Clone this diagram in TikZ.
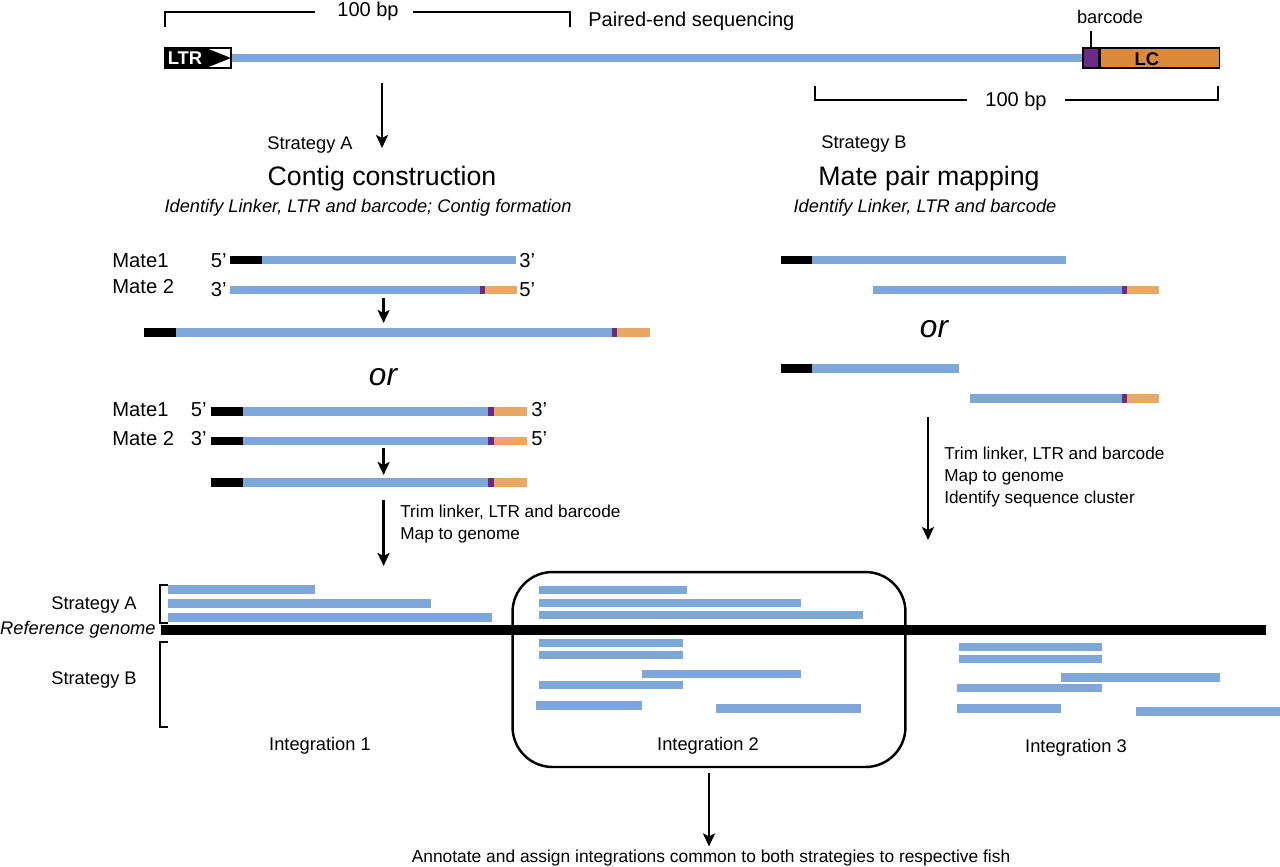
\documentclass[tikz,border=0pt]{standalone}
\usepackage{fontspec}
\setmainfont{Liberation Sans}
\usepackage{tikz}
\usetikzlibrary{arrows.meta, positioning}
\definecolor{bleu}{HTML}{7DA7D9}
\definecolor{pourpre}{HTML}{6B2A86}
\definecolor{orangefonce}{HTML}{D98A3C}
\definecolor{orangeclair}{HTML}{E9A766}
\tikzset{
  lecture/.style={line width=4.9pt},
  fleche/.style={-{Stealth[length=2.6mm, width=2.4mm, inset=0.6mm]}, line width=1.4pt},
  accolade/.style={line width=1pt},
  texte/.style={font=\fontsize{10.4}{12.5}\selectfont, inner sep=0pt},
  italique/.style={font=\fontsize{10.4}{12.5}\selectfont\itshape, inner sep=0pt},
  petit/.style={font=\fontsize{9.8}{12.3}\selectfont, inner sep=0pt, align=left},
  titre/.style={font=\fontsize{15.2}{18}\selectfont, inner sep=0pt},
  mesure/.style={font=\fontsize{11.4}{13}\selectfont, inner sep=0pt},
  mate/.style={font=\fontsize{11.5}{13}\selectfont, inner sep=0pt},
  ou/.style={font=\fontsize{18}{20}\selectfont\itshape, inner sep=0pt},
  cadre/.style={draw, line width=1.4pt, rounded corners=0.8cm},
  boite/.style={draw, line width=0.7pt, minimum height=0.4cm, inner sep=0pt},
}

\begin{document}
\begin{tikzpicture}[x=0.02cm, y=-0.02cm]
  \useasboundingbox (0,0) rectangle (1280,866);

  % construit sequence
  \node[boite, minimum width=1.32cm,
    path picture={
      \fill (path picture bounding box.south west) rectangle ([xshift=-0.46cm]path picture bounding box.north east);
      \fill ([xshift=-0.5cm]path picture bounding box.north east) -- (path picture bounding box.east)
        -- ([xshift=-0.5cm]path picture bounding box.south east) -- cycle;
    }] (ltr) at (198,58) {};
  \node[font=\fontsize{10.5}{12}\selectfont\bfseries, text=white, inner sep=0pt] (ltrtxt) at (185,58) {LTR};
  \node[boite, fill=pourpre, minimum width=0.32cm] (bc) at (1091,58) {};
  \node[boite, fill=orangefonce, minimum width=2.38cm, anchor=west] (lc) at (bc.east) {};
  \node[font=\fontsize{10.5}{12}\selectfont\bfseries, inner sep=0pt, anchor=base] (lctxt) at (1147,65) {LC};
  \draw[bleu, line width=4pt] (ltr.east) -- (bc.west);
  \node[texte, anchor=base] (bctxt) at (1110,23) {barcode};
  \draw[accolade] (bc.north) -- ++(0,-16);

  \node[mesure, anchor=base] (bp1) at (368,16) {100 bp};
  \draw[accolade] (315,12) -- (165,12) -- (165,27);
  \draw[accolade] (413,12) -- (570,12) -- (570,27);
  \node[mesure, anchor=base west] (pe) at (588,26) {Paired-end sequencing};
  \node[mesure, anchor=base] (bp2) at (1016,106) {100 bp};
  \draw[accolade] (967,100) -- (815,100) -- (815,86);
  \draw[accolade] (1065,100) -- (1218,100) -- (1218,86);

  \coordinate (depA) at (382,83);
  \coordinate (finA) at (382,148);
  \draw[fleche] (depA) -- (finA);

  % strategie A
  \node[texte, anchor=base] (stratA) at (310,149) {Strategy A};
  \node[titre, anchor=base] (contig) at (382,185) {Contig construction};
  \node[italique, anchor=base] (identA) at (368,212) {Identify Linker, LTR and barcode; Contig formation};

  \node[mate, anchor=base west] (m1a) at (112,267) {Mate1};
  \node[mate, anchor=base west] (m2a) at (112,293) {Mate 2};
  \node[mate, anchor=base east] (p5a) at (227,267) {5’};
  \node[mate, anchor=base west] (p3a) at (519,267) {3’};
  \node[mate, anchor=base east] (p3b) at (227,296) {3’};
  \node[mate, anchor=base west] (p5b) at (519,296) {5’};
  \draw[lecture] (230,260) -- (261.5,260);
  \draw[lecture, bleu] (261.5,260) -- (516,260);
  \draw[lecture, bleu] (230,290) -- (479.5,290);
  \draw[lecture, pourpre] (479.5,290) -- (485,290);
  \draw[lecture, orangeclair] (485,290) -- (517,290);
  \coordinate (depB) at (383.6,298);
  \coordinate (finB) at (383.6,323);
  \draw[fleche] (depB) -- (finB);
  \draw[lecture] (144,332.5) -- (175.5,332.5);
  \draw[lecture, bleu] (175.5,332.5) -- (611.5,332.5);
  \draw[lecture, pourpre] (611.5,332.5) -- (617,332.5);
  \draw[lecture, orangeclair] (617,332.5) -- (650,332.5);

  \node[ou, anchor=base] (ouA) at (383,385) {or};

  \node[mate, anchor=base west] (m1b) at (112,416) {Mate1};
  \node[mate, anchor=base west] (m2b) at (112,445) {Mate 2};
  \node[mate, anchor=base east] (p5c) at (207,416) {5’};
  \node[mate, anchor=base west] (p3c) at (531,416) {3’};
  \node[mate, anchor=base east] (p3d) at (207,445) {3’};
  \node[mate, anchor=base west] (p5d) at (531,445) {5’};
  \foreach \y in {411.5, 441, 482.5} {
    \draw[lecture] (210.5,\y) -- (242.5,\y);
    \draw[lecture, bleu] (242.5,\y) -- (488,\y);
    \draw[lecture, pourpre] (488,\y) -- (494,\y);
    \draw[lecture, orangeclair] (494,\y) -- (526.5,\y);
  }
  \coordinate (depC) at (383.6,448);
  \coordinate (finC) at (383.6,475);
  \draw[fleche] (depC) -- (finC);
  \coordinate (depD) at (383.6,500);
  \coordinate (finD) at (383.6,566);
  \draw[fleche] (depD) -- (finD);
  \node[petit, anchor=north west] (trimA) at (400,505) {Trim linker, LTR and barcode\\Map to genome};

  % strategie B
  \node[texte, anchor=base] (stratB) at (864,148) {Strategy B};
  \node[titre, anchor=base] (mpm) at (929,185) {Mate pair mapping};
  \node[italique, anchor=base] (identB) at (925,212) {Identify Linker, LTR and barcode};

  \draw[lecture] (780.7,260) -- (812,260);
  \draw[lecture, bleu] (812,260) -- (1066,260);
  \draw[lecture, bleu] (873,290) -- (1121.7,290);
  \draw[lecture, pourpre] (1121.7,290) -- (1126.7,290);
  \draw[lecture, orangeclair] (1126.7,290) -- (1159,290);
  \node[ou, anchor=base] (ouB) at (934,337) {or};
  \draw[lecture] (780.7,368.5) -- (812,368.5);
  \draw[lecture, bleu] (812,368.5) -- (959,368.5);
  \draw[lecture, bleu] (970,398.5) -- (1121.7,398.5);
  \draw[lecture, pourpre] (1121.7,398.5) -- (1126.7,398.5);
  \draw[lecture, orangeclair] (1126.7,398.5) -- (1159,398.5);
  \coordinate (depE) at (928,417);
  \coordinate (finE) at (928,540);
  \draw[fleche] (depE) -- (finE);
  \node[petit, anchor=north west] (trimB) at (944,447) {Trim linker, LTR and barcode\\Map to genome\\Identify sequence cluster};

  % genome de reference
  \node[cadre, minimum width=7.86cm, minimum height=3.9cm] (integ2) at (709,669.5) {};
  \draw[line width=5.7pt] (161,630) -- (1266,630);
  \node[italique, anchor=base east] (refg) at (156,634) {Reference genome};
  \draw[accolade] (168,585) -- (160,585) -- (160,623) -- (168,623);
  \draw[accolade] (168,642) -- (160,642) -- (160,727) -- (168,727);
  \node[texte, anchor=base] (labA) at (94,609) {Strategy A};
  \node[texte, anchor=base] (labB) at (94,684) {Strategy B};

  \foreach \xa/\xb/\y in {168/315/589.5, 168/431/603.5, 168/492/617.5,
      539/687/590, 539/801/603, 539/863/615,
      539/683/643, 539/683/655, 642/801/674, 539/683/685, 536/642/705.5, 716/861/708.5,
      959/1102/647, 959/1102/659, 1061/1220/677.5, 957/1102/688, 957/1061/708.5, 1136/1280/711.5}
    \draw[lecture, bleu] (\xa,\y) -- (\xb,\y);

  \node[texte, anchor=base] (int1) at (320,750) {Integration 1};
  \node[texte, anchor=base] (int2) at (708,750) {Integration 2};
  \node[texte, anchor=base] (int3) at (1076,752) {Integration 3};

  \node[font=\fontsize{9.9}{12}\selectfont, inner sep=0pt, anchor=base] (annot) at (711,862)
    {Annotate and assign integrations common to both strategies to respective fish};
  \draw[fleche] ([yshift=-0.1cm]integ2.south) -- ([yshift=1.5pt]integ2.south |- annot.north);
\end{tikzpicture}
\end{document}
